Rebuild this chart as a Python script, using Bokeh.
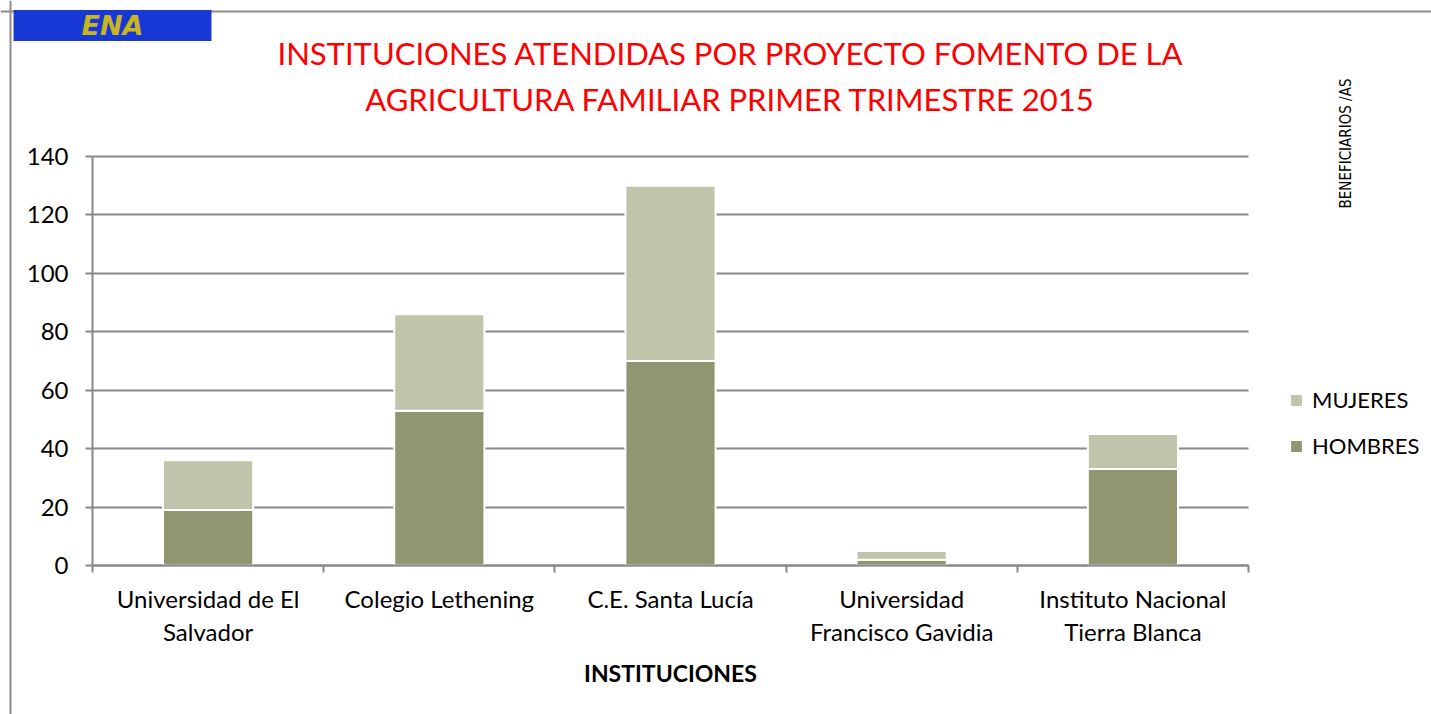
import math
from bokeh.plotting import figure
from bokeh.models import (ColumnDataSource, FixedTicker, Legend, LegendItem, Label, Span)
from bokeh.embed import file_html
from bokeh.resources import INLINE

# ---- data ----
instituciones = ["Universidad de El\nSalvador", "Colegio Lethening", "C.E. Santa Lucía",
                 "Universidad\nFrancisco Gavidia", "Instituto Nacional\nTierra Blanca"]
hombres = [19, 53, 70, 2, 33]
mujeres = [17, 33, 60, 3, 12]
y_ticks = [0, 20, 40, 60, 80, 100, 120, 140]

title_line1 = "INSTITUCIONES ATENDIDAS POR PROYECTO FOMENTO DE LA"
title_line2 = "AGRICULTURA FAMILIAR PRIMER TRIMESTRE 2015"
x_title = "INSTITUCIONES"
side_title = "BENEFICIARIOS /AS"
logo_text = "ENA"

FONT = "Lato"
C_H = "#929670"
C_M = "#c0c4aa"
GRID = "#888888"
BORDER = "#8c8c8c"

n = len(instituciones)
y_max = y_ticks[-1]
xc = [i + 0.5 for i in range(n)]
total = [h + m for h, m in zip(hombres, mujeres)]
src = ColumnDataSource(dict(x=xc, h=hombres, m=mujeres, t=total))

# ---- layout geometry (pixels) ----
W, H = 1431, 714
PLOT_L, PLOT_R, PLOT_T, PLOT_B = 92, 1248, 156, 565   # where the category/value area sits
sx_unit = (PLOT_R - PLOT_L) / n
sy_unit = (PLOT_B - PLOT_T) / y_max
x_range = (-PLOT_L / sx_unit, (W - PLOT_L) / sx_unit)
y_range = (-(H - PLOT_B) / sy_unit, PLOT_B / sy_unit)

def dx(px):
    return (px - PLOT_L) / sx_unit

def dy(py):
    return (PLOT_B - py) / sy_unit

p = figure(width=W, height=H, output_backend="svg", toolbar_location=None,
           x_range=x_range, y_range=y_range,
           min_border_left=0, min_border_right=0, min_border_top=0, min_border_bottom=0)
p.outline_line_color = None
p.background_fill_color = "white"
p.border_fill_color = "white"

r_h = p.vbar(x="x", top="h", bottom=0, width=0.39, source=src, fill_color=C_H,
             line_color="white", line_width=2)
r_m = p.vbar(x="x", top="t", bottom="h", width=0.39, source=src, fill_color=C_M,
             line_color="white", line_width=2)

# x axis: category labels at centres, boundary ticks as minor ticks
p.xaxis.fixed_location = 0
p.xaxis.bounds = (0, n)
p.xaxis.ticker = FixedTicker(ticks=xc, minor_ticks=list(range(n + 1)))
p.xaxis.major_label_overrides = {x: lab for x, lab in zip(xc, instituciones)}
p.xaxis.major_tick_out = 0
p.xaxis.major_tick_in = 0
p.xaxis.minor_tick_out = 7
p.xaxis.minor_tick_in = 0
p.xaxis.minor_tick_line_color = GRID
p.xaxis.minor_tick_line_width = 2
p.xaxis.axis_line_color = GRID
p.xaxis.axis_line_width = 2
p.xaxis.major_label_text_font = FONT
p.xaxis.major_label_text_font_size = "24px"
p.xaxis.major_label_text_line_height = 1.15
p.xaxis.major_label_text_color = "black"
p.xaxis.major_label_standoff = 11
p.xaxis.axis_label = x_title
p.xaxis.axis_label_text_font = FONT
p.xaxis.axis_label_text_font_size = "23px"
p.xaxis.axis_label_text_font_style = "bold"
p.xaxis.axis_label_text_color = "black"
p.xaxis.axis_label_standoff = 10
p.xgrid.grid_line_color = None

p.yaxis.fixed_location = 0
p.yaxis.bounds = (0, y_max)
p.yaxis.ticker = FixedTicker(ticks=y_ticks)
p.yaxis.major_tick_out = 7
p.yaxis.major_tick_in = 0
p.yaxis.minor_tick_line_color = None
p.yaxis.major_tick_line_color = GRID
p.yaxis.major_tick_line_width = 2
p.yaxis.axis_line_color = GRID
p.yaxis.axis_line_width = 2
p.yaxis.major_label_text_font = FONT
p.yaxis.major_label_text_font_size = "24px"
p.yaxis.major_label_text_color = "black"
p.yaxis.major_label_standoff = 17
p.ygrid.grid_line_color = GRID
p.ygrid.grid_line_width = 2
try:
    p.ygrid.cross_bounds = (0, n)
except Exception:
    p.ygrid.grid_line_color = None
    p.segment(x0=[0] * len(y_ticks[1:]), x1=[n] * len(y_ticks[1:]), y0=y_ticks[1:], y1=y_ticks[1:],
              line_color=GRID, line_width=2, level="underlay")

# chart border (top and left edges)
p.add_layout(Span(location=dy(11), dimension="width", line_color=BORDER, line_width=2))
p.add_layout(Span(location=dx(10), dimension="height", line_color=BORDER, line_width=2))

# title
for txt, py in [(title_line1, 52), (title_line2, 98)]:
    p.add_layout(Label(x=730, y=H - py, x_units="screen", y_units="screen", text=txt,
                       text_align="center", text_baseline="middle", text_color="#ff0000",
                       text_font=FONT, text_font_size="31px"))

# legend
legend = Legend(items=[LegendItem(label="MUJERES", renderers=[r_m]),
                       LegendItem(label="HOMBRES", renderers=[r_h])],
                location=(1288, H - 459), orientation="vertical",
                label_text_font=FONT, label_text_font_size="22px", label_text_color="black",
                glyph_width=16, glyph_height=16, spacing=19, border_line_color=None,
                background_fill_alpha=0, label_standoff=8, padding=10, margin=0)
p.add_layout(legend, "center")

# rotated side label
p.add_layout(Label(x=1345, y=H - 208, x_units="screen", y_units="screen", text=side_title,
                   angle=math.pi / 2,
                   text_font="'Liberation Sans Narrow', 'DejaVu Sans Condensed', 'Roboto', sans-serif",
                   text_font_size="15px",
                   text_color="black", text_baseline="middle", text_align="left"))

# logo
p.add_layout(Label(x=112, y=H - 25, x_units="screen", y_units="screen",
                   text=logo_text, text_color="#c9b61e", text_font="DejaVu Sans",
                   text_font_style="bold italic", text_font_size="27px", text_line_height=1.1,
                   background_fill_color="#1838d6", text_align="center", text_baseline="middle",
                   padding=(68, 68, 0, 0)))

open("out.html", "w").write(file_html(p, INLINE))
